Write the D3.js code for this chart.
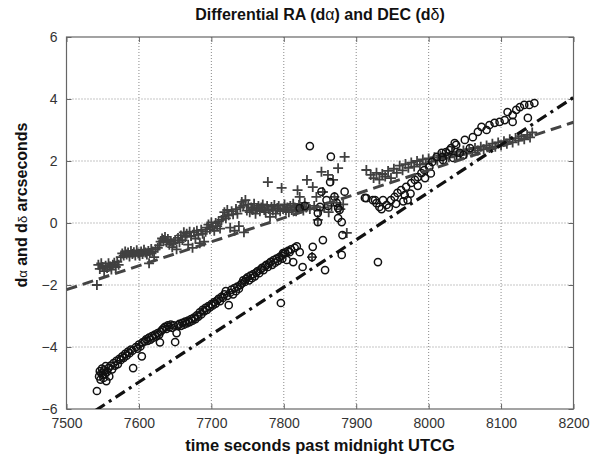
<!DOCTYPE html>
<html>
<head>
<meta charset="utf-8">
<script src="https://cdn.jsdelivr.net/npm/d3@7"></script>
<style>
  body { margin: 0; background: #fff; }
  text { font-family: "Liberation Sans", Arial, sans-serif; }
</style>
</head>
<body>
<div id="chart"></div>
<script>
// tick values
const xTicks = [7500, 7600, 7700, 7800, 7900, 8000, 8100, 8200];
const yTicks = [-6, -4, -2, 0, 2, 4, 6];

// d-alpha samples (plus markers)
const plusData = [
  [7542,-2.0],[7544,-1.35],[7546,-1.48],[7548,-1.3],[7550,-1.42],[7552,-1.55],[7554,-1.38],
  [7556,-1.45],[7558,-1.3],[7560,-1.4],[7562,-1.5],[7564,-1.35],[7566,-1.28],[7568,-1.42],
  [7570,-1.25],[7572,-1.35],[7575,-1.1],[7577,-0.98],[7579,-1.05],[7581,-0.92],[7583,-1.02],
  [7585,-0.95],[7587,-1.08],[7589,-0.9],[7591,-1.0],[7593,-0.94],[7595,-1.05],[7597,-0.88],
  [7599,-0.98],[7601,-1.06],[7603,-0.92],[7605,-1.0],[7607,-0.86],[7609,-0.95],[7611,-1.02],
  [7613,-0.9],[7614,-1.3],[7615,-0.97],[7617,-0.84],[7619,-0.92],[7621,-1.1],[7623,-0.85],
  [7626,-0.8],[7628,-0.72],[7630,-0.6],[7632,-0.5],[7634,-0.55],[7636,-0.45],[7638,-0.62],
  [7640,-0.52],[7642,-0.7],[7644,-0.58],[7646,-0.78],[7648,-0.65],[7650,-0.55],[7652,-0.85],
  [7654,-0.48],[7656,-0.62],[7658,-0.4],[7660,-0.55],[7662,-0.3],[7664,-0.45],[7666,-0.35],
  [7668,-0.7],[7670,-0.28],[7672,-0.42],[7674,-0.8],[7676,-0.3],[7678,-0.5],[7680,-0.25],
  [7682,-0.38],[7684,-0.65],[7686,-0.22],[7688,-0.35],[7690,-0.6],[7692,-0.28],[7694,-0.15],
  [7696,-0.05],[7698,-0.2],[7700,0.02],[7702,-0.12],[7704,-0.25],[7706,0.0],[7708,-0.1],
  [7710,0.05],[7712,-0.18],[7714,0.1],[7716,0.2],[7718,0.35],[7720,0.15],[7722,0.42],
  [7724,0.25],[7726,-0.15],[7728,0.38],[7730,0.28],[7732,-0.25],[7734,0.45],[7736,0.3],
  [7738,-0.1],[7740,0.5],[7742,0.68],[7744,0.55],[7745,-0.3],[7747,0.74],[7749,0.4],
  [7751,0.6],[7753,0.35],[7755,0.5],[7757,0.42],[7759,0.62],[7761,0.3],[7763,0.48],
  [7765,0.55],[7767,0.38],[7769,0.5],[7771,0.6],[7773,0.42],[7775,0.35],[7777,0.55],
  [7778,1.32],[7779,0.45],[7781,0.2],[7783,0.52],[7785,0.4],[7787,0.58],[7789,0.3],
  [7791,0.48],[7793,0.55],[7795,0.38],[7797,1.13],[7799,0.45],[7801,0.6],[7803,0.4],
  [7805,0.5],[7807,0.35],[7809,0.55],[7811,0.42],[7813,0.62],[7815,0.5],[7817,0.38],
  [7819,1.06],[7821,0.58],[7822,0.84],[7823,0.45],[7825,0.52],[7827,0.4],[7829,0.65],
  [7831,0.5],[7832,1.39],[7836,0.45],[7839,-1.1],[7840,1.16],[7842,0.55],[7845,0.84],
  [7847,0.1],[7850,0.4],[7852,1.65],[7854,1.0],[7856,0.5],[7861,1.55],[7862,0.35],
  [7866,0.55],[7868,1.39],[7870,0.84],[7873,0.65],[7875,1.77],[7878,0.45],[7882,0.6],
  [7884,2.13],[7887,-0.32],[7914,1.71],[7920,1.55],[7924,1.45],[7928,1.62],[7932,1.4],
  [7936,1.58],[7940,1.5],[7944,1.68],[7948,1.45],[7952,1.75],[7956,1.62],[7960,1.85],
  [7964,1.7],[7968,1.9],[7972,1.78],[7976,1.95],[7980,1.82],[7984,2.0],[7988,1.88],
  [7992,2.05],[7996,1.92],[8000,2.08],[8004,1.98],[8008,2.12],[8012,2.02],[8016,2.18],
  [8020,2.08],[8024,2.22],[8028,2.12],[8032,2.26],[8036,2.16],[8040,2.3],[8044,2.2],
  [8048,2.34],[8052,2.24],[8056,2.38],[8060,2.28],[8064,2.42],[8068,2.34],[8072,2.46],
  [8076,2.38],[8080,2.5],[8084,2.42],[8088,2.56],[8092,2.46],[8096,2.6],[8100,2.5],
  [8104,2.64],[8108,2.56],[8112,2.7],[8116,2.6],[8120,2.74],[8124,2.66],[8128,2.8],
  [8132,2.7],[8136,2.84],[8140,2.76],[8143,2.92]
];

// d-delta samples (circle markers)
const circleData = [
  [7542,-5.42],[7545,-4.95],[7546,-4.78],[7547,-5.05],[7548,-4.85],[7549,-4.7],[7550,-4.9],
  [7551,-5.0],[7552,-4.75],[7553,-4.88],[7554,-4.62],[7555,-5.1],[7556,-4.8],[7558,-4.68],
  [7559,-4.95],[7561,-4.6],[7563,-4.72],[7565,-4.52],[7567,-4.6],[7569,-4.45],[7571,-4.55],
  [7573,-4.38],[7575,-4.42],[7577,-4.3],[7579,-4.35],[7581,-4.22],[7583,-4.28],[7585,-4.15],
  [7587,-4.2],[7589,-4.08],[7591,-4.12],[7592,-4.68],[7596,-4.0],[7598,-4.05],[7600,-3.92],
  [7602,-3.98],[7604,-4.3],[7605,-3.85],[7608,-3.82],[7610,-3.75],[7612,-3.8],[7614,-3.7],
  [7616,-3.76],[7618,-3.65],[7620,-3.7],[7622,-3.6],[7624,-3.66],[7626,-3.55],[7628,-3.6],
  [7629,-3.85],[7630,-3.5],[7632,-3.45],[7634,-3.4],[7636,-3.35],[7638,-3.42],[7640,-3.3],
  [7642,-3.36],[7644,-3.28],[7646,-3.38],[7648,-3.3],[7650,-3.84],[7652,-3.55],[7654,-3.3],
  [7656,-3.25],[7658,-3.32],[7660,-3.22],[7662,-3.28],[7664,-3.18],[7666,-3.24],[7668,-3.15],
  [7670,-3.2],[7672,-3.1],[7674,-3.15],[7676,-3.05],[7678,-3.1],[7680,-2.98],[7682,-3.02],
  [7684,-2.88],[7686,-2.95],[7688,-2.8],[7690,-2.85],[7692,-2.74],[7694,-2.8],[7696,-2.68],
  [7698,-2.72],[7700,-2.62],[7702,-2.66],[7704,-2.55],[7706,-2.6],[7708,-2.5],[7710,-2.45],
  [7712,-2.52],[7714,-2.38],[7716,-2.42],[7718,-2.3],[7720,-2.2],[7722,-2.35],[7724,-2.65],
  [7726,-2.25],[7728,-2.15],[7730,-2.3],[7732,-2.1],[7734,-2.2],[7736,-2.05],[7738,-2.12],
  [7740,-2.0],[7742,-1.95],[7744,-1.85],[7746,-1.9],[7748,-1.8],[7750,-1.75],[7752,-1.85],
  [7754,-1.7],[7756,-1.78],[7758,-1.65],[7760,-1.72],[7762,-1.6],[7764,-1.55],[7766,-1.62],
  [7768,-1.5],[7770,-1.45],[7772,-1.52],[7774,-1.4],[7776,-1.35],[7778,-1.42],[7780,-1.3],
  [7782,-1.25],[7784,-1.35],[7786,-1.2],[7788,-1.28],[7790,-1.15],[7792,-1.22],[7794,-1.1],
  [7796,-2.58],[7797,-1.05],[7798,-1.15],[7799,-0.97],[7800,-1.0],[7802,-0.95],[7804,-1.19],
  [7806,-0.9],[7808,-0.94],[7810,-0.85],[7813,-1.26],[7815,-0.8],[7818,-0.75],[7822,-0.94],
  [7822,0.48],[7826,-1.42],[7829,0.55],[7836,2.48],[7839,-1.1],[7840,-0.77],[7847,0.32],
  [7847,0.03],[7850,0.52],[7852,1.01],[7854,-0.55],[7857,-1.52],[7859,0.74],[7861,0.55],
  [7864,1.32],[7865,2.14],[7870,0.85],[7873,0.65],[7875,0.48],[7875,0.16],[7877,0.42],
  [7880,0.03],[7880,-1.03],[7881,-0.39],[7884,1.01],[7912,0.81],[7914,0.8],[7923,0.74],
  [7926,0.74],[7928,0.64],[7930,-1.26],[7932,0.52],[7935,0.45],[7937,0.74],[7942,0.58],
  [7945,0.5],[7948,0.74],[7953,0.84],[7955,0.62],[7957,0.97],[7962,1.06],[7965,0.7],
  [7967,0.9],[7969,1.17],[7971,0.74],[7975,0.95],[7976,1.29],[7981,1.39],[7985,1.2],
  [7985,1.48],[7990,1.61],[7994,1.71],[7995,1.45],[8001,1.81],[8003,1.6],[8005,1.97],
  [8011,2.13],[8018,2.26],[8019,2.13],[8020,2.03],[8024,2.29],[8029,2.35],[8031,2.42],
  [8034,2.1],[8036,2.58],[8038,2.52],[8043,2.26],[8048,2.19],[8050,2.68],[8057,2.42],
  [8061,2.77],[8068,2.94],[8073,3.1],[8080,3.0],[8084,3.16],[8091,3.23],[8098,3.26],
  [8105,3.32],[8109,3.58],[8116,3.48],[8116,3.26],[8121,3.65],[8126,3.74],[8132,3.81],
  [8137,3.39],[8139,3.81],[8146,3.87]
];

// fitted trend lines (end points)
const dashedFit = [[7500,-2.15],[8200,3.25]];
const dashDotFit = [[7540,-6.05],[8200,4.05]];

const W = 606, H = 460;
const box = { left: 66.5, right: 573.5, top: 37, bottom: 409 };

const svg = d3.select("#chart").append("svg")
    .attr("width", W)
    .attr("height", H);

const x = d3.scaleLinear().domain([7500, 8200]).range([box.left, box.right]);
const y = d3.scaleLinear().domain([-6, 6]).range([box.bottom, box.top]);

svg.append("clipPath").attr("id", "plotclip")
  .append("rect")
    .attr("x", box.left).attr("y", box.top)
    .attr("width", box.right - box.left).attr("height", box.bottom - box.top);

// grid
svg.append("g")
  .selectAll("line")
  .data(xTicks.slice(1, -1))
  .join("line")
    .attr("x1", d => x(d)).attr("x2", d => x(d))
    .attr("y1", box.top).attr("y2", box.bottom)
    .attr("stroke", "#8a8a8a")
    .attr("stroke-dasharray", "1,2");

svg.append("g")
  .selectAll("line")
  .data(yTicks.slice(1, -1))
  .join("line")
    .attr("y1", d => y(d)).attr("y2", d => y(d))
    .attr("x1", box.left).attr("x2", box.right)
    .attr("stroke", "#8a8a8a")
    .attr("stroke-dasharray", "1,2");

// axes
const fmt = d3.format("d");
const xAxis = svg.append("g")
    .attr("transform", "translate(0," + box.bottom + ")")
    .call(d3.axisBottom(x).tickValues(xTicks).tickFormat(fmt).tickSizeInner(-5).tickSizeOuter(0).tickPadding(9));
const xTop = svg.append("g")
    .attr("transform", "translate(0," + box.top + ")")
    .call(d3.axisTop(x).tickValues(xTicks).tickSizeInner(-5).tickSizeOuter(0).tickFormat(""));
const yAxis = svg.append("g")
    .attr("transform", "translate(" + box.left + ",0)")
    .call(d3.axisLeft(y).tickValues(yTicks).tickFormat(fmt).tickSizeInner(-5).tickSizeOuter(0).tickPadding(9));
const yRight = svg.append("g")
    .attr("transform", "translate(" + box.right + ",0)")
    .call(d3.axisRight(y).tickValues(yTicks).tickSizeInner(-5).tickSizeOuter(0).tickFormat(""));

[xAxis, xTop, yAxis, yRight].forEach(g => {
  g.select(".domain").remove();
  g.selectAll("line").attr("stroke", "#666");
  g.selectAll("text")
    .style("font-size", "14px")
    .style("font-family", "'Liberation Sans', Arial, sans-serif")
    .attr("fill", "#333");
});

svg.append("rect")
    .attr("x", box.left).attr("y", box.top)
    .attr("width", box.right - box.left).attr("height", box.bottom - box.top)
    .attr("fill", "none")
    .attr("stroke", "#666")
    .attr("stroke-width", 1.2);

const plot = svg.append("g").attr("clip-path", "url(#plotclip)");

// plus markers
plot.append("g")
  .selectAll("path")
  .data(plusData)
  .join("path")
    .attr("d", d => {
      const px = x(d[0]), py = y(d[1]), s = 5;
      return "M" + (px - s) + "," + py + "H" + (px + s) + "M" + px + "," + (py - s) + "V" + (py + s);
    })
    .attr("stroke", "#404040")
    .attr("stroke-width", 1.8)
    .attr("fill", "none");

// circle markers
plot.append("g")
  .selectAll("circle")
  .data(circleData)
  .join("circle")
    .attr("cx", d => x(d[0]))
    .attr("cy", d => y(d[1]))
    .attr("r", 3.6)
    .attr("fill", "none")
    .attr("stroke", "#111")
    .attr("stroke-width", 1.5);

const line = d3.line().x(d => x(d[0])).y(d => y(d[1]));

plot.append("path")
    .datum(dashedFit)
    .attr("d", line)
    .attr("fill", "none")
    .attr("stroke", "#444")
    .attr("stroke-width", 3)
    .attr("stroke-dasharray", "11,6");

plot.append("path")
    .datum(dashDotFit)
    .attr("d", line)
    .attr("fill", "none")
    .attr("stroke", "#111")
    .attr("stroke-width", 3.2)
    .attr("stroke-dasharray", "11,5,3,5");

// title and labels
const title = svg.append("text")
    .attr("x", 320).attr("y", 20)
    .attr("text-anchor", "middle")
    .style("font-size", "16px")
    .style("font-weight", "bold")
    .attr("fill", "#111");
title.append("tspan").text("Differential RA (d");
title.append("tspan").style("font-weight", "normal").text("α");
title.append("tspan").text(") and DEC (d");
title.append("tspan").style("font-weight", "normal").text("δ");
title.append("tspan").text(")");

svg.append("text")
    .attr("x", 320).attr("y", 451)
    .attr("text-anchor", "middle")
    .style("font-size", "16.5px")
    .style("font-weight", "bold")
    .attr("fill", "#111")
    .text("time seconds past midnight UTCG");

const ylab = svg.append("text")
    .attr("transform", "translate(27,205) rotate(-90)")
    .attr("text-anchor", "middle")
    .style("font-size", "16px")
    .style("font-weight", "bold")
    .attr("fill", "#111");
ylab.append("tspan").text("d");
ylab.append("tspan").style("font-weight", "normal").style("font-size", "13px").text("α");
ylab.append("tspan").text(" and d");
ylab.append("tspan").style("font-weight", "normal").style("font-size", "13px").text("δ");
ylab.append("tspan").text(" arcseconds");
</script>
</body>
</html>
